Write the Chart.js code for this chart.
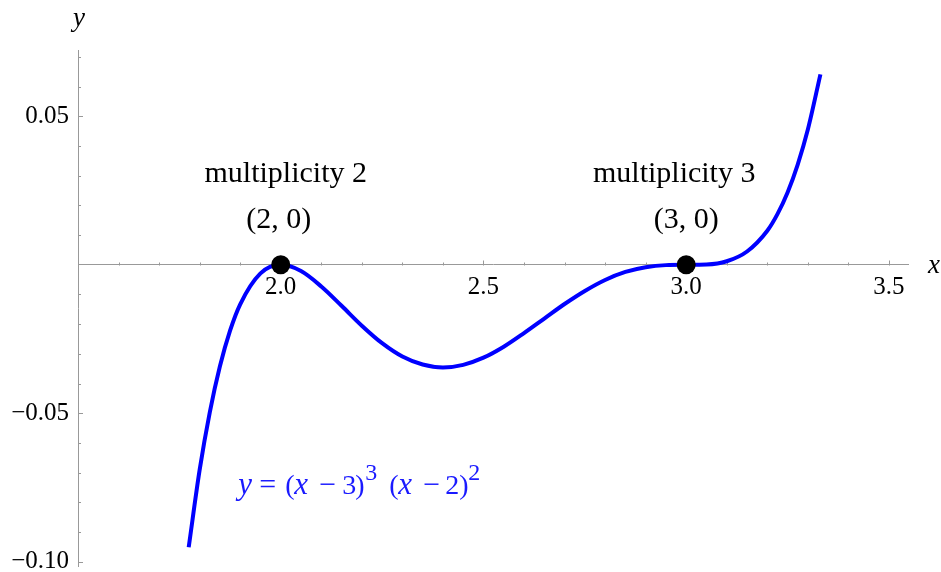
<!DOCTYPE html>
<html>
<head>
<meta charset="utf-8">
<title>y = (x − 3)^3 (x − 2)^2</title>
<script src="https://cdn.jsdelivr.net/npm/chart.js@4.4.1/dist/chart.umd.min.js"></script>
<style>
  html, body { margin: 0; padding: 0; background: #fff; }
  canvas { display: block; }
</style>
</head>
<body>
<canvas id="plot" width="941" height="572"></canvas>
<script>
// points along the curve
const curveX = [1.773, 1.8, 1.825, 1.85, 1.875, 1.9, 1.95,
  2.0, 2.05, 2.1, 2.15, 2.2, 2.25, 2.3, 2.35, 2.4, 2.45, 2.5, 2.55, 2.6,
  2.65, 2.7, 2.75, 2.8, 2.85, 2.9, 2.95, 3.0, 3.05, 3.1, 3.15, 3.2,
  3.225, 3.25, 3.275, 3.3, 3.331];
const curveY = [-0.0952, -0.0691, -0.0497, -0.0342, -0.0222, -0.0133, -0.0029,
  0, -0.0021, -0.0073, -0.0138, -0.0205, -0.0264, -0.0309, -0.0336, -0.0346, -0.0337, -0.0313, -0.0276, -0.0230,
  -0.0181, -0.0132, -0.0088, -0.0051, -0.0024, -0.0008, -0.0001, 0, 0.0001, 0.0012, 0.0045, 0.0115,
  0.0171, 0.0244, 0.0338, 0.0456, 0.0642];

// marked zeros
const rootX = [2, 3];
const rootY = [0, 0];
const rootLabels = ['(2, 0)', '(3, 0)'];
const rootNotes = ['multiplicity 2', 'multiplicity 3'];

// ticks
const xTicks = [2.0, 2.5, 3.0, 3.5];
const xTickLabels = ['2.0', '2.5', '3.0', '3.5'];
const xMinorTicks = [1.6, 1.7, 1.8, 1.9, 2.1, 2.2, 2.3, 2.4, 2.6, 2.7, 2.8, 2.9, 3.1, 3.2, 3.3, 3.4];
const yTicks = [-0.10, -0.05, 0.05];
const yTickLabels = ['\u22120.10', '\u22120.05', '0.05'];
const yMinorTicks = [-0.09, -0.08, -0.07, -0.06, -0.04, -0.03, -0.02, -0.01, 0.01, 0.02, 0.03, 0.04, 0.06, 0.07];

const SERIF = '"Liberation Serif", "Times New Roman", serif';
const AXIS_GRAY = '#999999';
const CURVE_BLUE = '#0000ff';

// formula pieces: text, x offset, size, italic, superscript
const formulaParts = [
  ['y', 0, 31, true, false],
  ['=', 21, 30, false, false],
  ['(', 47, 28, false, false],
  ['x', 56, 31, true, false],
  ['\u2212', 81, 30, false, false],
  ['3', 104, 28, false, false],
  [')', 117, 28, false, false],
  ['3', 127, 24, false, true],
  ['(', 151, 28, false, false],
  ['x', 160, 31, true, false],
  ['\u2212', 185, 30, false, false],
  ['2', 207, 28, false, false],
  [')', 221, 28, false, false],
  ['2', 230, 24, false, true]
];

const decorations = {
  id: 'decorations',
  beforeDatasetsDraw(chart) {
    const { ctx, chartArea, scales: { x, y } } = chart;
    const y0 = Math.round(y.getPixelForValue(0)) + 0.5;
    const left = chartArea.left;
    ctx.save();
    ctx.strokeStyle = AXIS_GRAY;
    ctx.lineWidth = 1;
    ctx.beginPath();
    const xTick = (v, len) => {
      const px = Math.round(x.getPixelForValue(v)) + 0.5;
      ctx.moveTo(px, y0);
      ctx.lineTo(px, y0 - len);
    };
    const yTick = (v, len) => {
      const py = Math.round(y.getPixelForValue(v)) + 0.5;
      ctx.moveTo(left, py);
      ctx.lineTo(left + len, py);
    };
    xMinorTicks.forEach(v => xTick(v, 3));
    xTicks.forEach(v => xTick(v, 5));
    yMinorTicks.forEach(v => yTick(v, 3));
    yTicks.forEach(v => yTick(v, 5));
    ctx.stroke();
    ctx.restore();
  },
  afterDatasetsDraw(chart) {
    const { ctx, chartArea, scales: { x, y } } = chart;
    const y0 = y.getPixelForValue(0);
    ctx.save();
    ctx.fillStyle = '#000';
    ctx.textBaseline = 'alphabetic';

    // axis names
    ctx.font = 'italic 27px ' + SERIF;
    ctx.textAlign = 'center';
    ctx.fillText('y', chartArea.left + 1, chartArea.top - 24);
    ctx.textAlign = 'left';
    ctx.fillText('x', chartArea.right + 20, y0 + 8);

    // root notes
    const noteShift = [5, -12];
    const labelShift = [-2, 0];
    ctx.font = '30px ' + SERIF;
    ctx.textAlign = 'center';
    rootX.forEach((rx, i) => {
      const px = x.getPixelForValue(rx);
      const py = y.getPixelForValue(rootY[i]);
      ctx.fillText(rootNotes[i], px + noteShift[i], py - 83);
      ctx.fillText(rootLabels[i], px + labelShift[i], py - 37);
    });

    // formula
    const fx = x.getPixelForValue(1.895);
    const fy = y.getPixelForValue(-0.0772);
    ctx.fillStyle = '#1a1aff';
    ctx.textAlign = 'left';
    formulaParts.forEach(([txt, dx, size, italic, sup]) => {
      ctx.font = (italic ? 'italic ' : '') + size + 'px ' + SERIF;
      ctx.fillText(txt, fx + dx, fy - (sup ? 14 : 0));
    });
    ctx.restore();
  }
};

const tickFont = { family: SERIF, size: 25 };

new Chart(document.getElementById('plot'), {
  type: 'scatter',
  data: {
    datasets: [{
      label: 'zeros',
      data: rootX.map((rx, i) => ({ x: rx, y: rootY[i] })),
      pointRadius: 9.5,
      pointBackgroundColor: '#000',
      pointBorderColor: '#000',
      pointBorderWidth: 0,
      showLine: false,
      order: 0
    }, {
      label: 'y = (x - 3)^3 (x - 2)^2',
      data: curveX.map((cx, i) => ({ x: cx, y: curveY[i] })),
      borderColor: CURVE_BLUE,
      borderWidth: 4,
      pointRadius: 0,
      showLine: true,
      fill: false,
      cubicInterpolationMode: 'monotone',
      order: 1
    }]
  },
  options: {
    responsive: false,
    animation: false,
    devicePixelRatio: 1,
    layout: {
      autoPadding: false,
      padding: { left: 12, top: 50, right: 33, bottom: 6 }
    },
    plugins: {
      legend: { display: false },
      tooltip: { enabled: false }
    },
    scales: {
      x: {
        type: 'linear',
        min: 1.5,
        max: 3.547,
        position: { y: 0 },
        afterBuildTicks: scale => { scale.ticks = xTicks.map(v => ({ value: v })); },
        afterFit: scale => {
          scale.height = 0;
          scale.paddingLeft = 0;
          scale.paddingRight = 0;
        },
        ticks: {
          callback: v => xTickLabels[xTicks.indexOf(v)],
          font: tickFont,
          color: '#000',
          padding: 8,
          maxRotation: 0,
          autoSkip: false
        },
        grid: { display: true, drawOnChartArea: false, drawTicks: false },
        border: { display: true, color: AXIS_GRAY, width: 1 }
      },
      y: {
        type: 'linear',
        min: -0.1015,
        max: 0.0724,
        position: 'left',
        afterBuildTicks: scale => { scale.ticks = yTicks.map(v => ({ value: v })); },
        afterFit: scale => {
          scale.width = 66;
          scale.paddingTop = 0;
          scale.paddingBottom = 0;
        },
        ticks: {
          callback: v => yTickLabels[yTicks.indexOf(v)],
          font: tickFont,
          color: '#000',
          padding: 9,
          autoSkip: false
        },
        grid: { display: true, drawOnChartArea: false, drawTicks: false },
        border: { display: true, color: AXIS_GRAY, width: 1 }
      }
    }
  },
  plugins: [decorations]
});
</script>
</body>
</html>
